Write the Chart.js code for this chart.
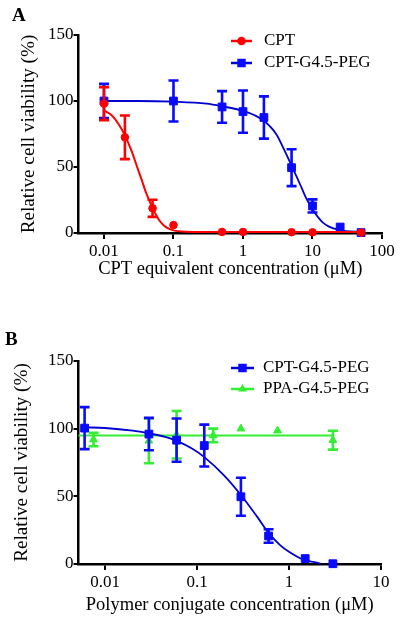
<!DOCTYPE html>
<html><head><meta charset="utf-8">
<script src="https://cdn.jsdelivr.net/npm/chart.js@4.4.0/dist/chart.umd.min.js"></script>
<style>
body{margin:0;background:#fff;width:400px;height:620px;position:relative;overflow:hidden;}
canvas{position:absolute;left:0;}
#ca{top:0}
#cb{top:300px}
</style></head><body>
<canvas id="ca" width="400" height="300"></canvas>
<canvas id="cb" width="400" height="320"></canvas>
<script>
// ---------- Panel A data ----------
const panelALetter = 'A';
const xTicksA = [0.01, 0.1, 1, 10, 100];
const xTickLabelsA = ['0.01', '0.1', '1', '10', '100'];
const yTicks = [0, 50, 100, 150];
const xTitleA = 'CPT equivalent concentration (\u03bcM)';
const yTitle = 'Relative cell viability (%)';

const cptLabel = 'CPT';
const cptX = [0.01, 0.02, 0.05, 0.1, 0.5, 1, 5, 10, 50];
const cptY = [98, 72.5, 18.7, 6, 0.8, 0.8, 0.6, 0.5, 0.3];
const cptErr = [12.5, 16.5, 6.5, 0, 0, 0, 0, 0, 0];
const cptFitX = [0.01, 0.013, 0.016, 0.02, 0.025, 0.03, 0.035, 0.04, 0.05, 0.06, 0.07, 0.08, 0.1, 0.15, 0.3, 1, 10, 50];
const cptFitY = [93, 89, 83, 74, 62, 50, 40, 31, 19, 11, 6.5, 4, 2, 1, 0.8, 0.8, 0.8, 0.8];

const pegLabel = 'CPT-G4.5-PEG';
const pegAX = [0.01, 0.1, 0.5, 1, 2, 5, 10, 25, 50];
const pegAY = [100, 100, 95.5, 92, 87.5, 49.5, 20.5, 4.5, 0.3];
const pegAErr = [13, 15.5, 12, 16, 16, 14, 5, 0, 0];
const pegAFitX = [0.01, 0.03, 0.1, 0.3, 0.5, 1, 1.5, 2, 3, 4, 5, 6, 7, 8, 10, 12, 14, 17, 20, 30, 50];
const pegAFitY = [100, 100, 99.5, 98, 96, 92.5, 89, 85, 75, 62, 51, 42, 34, 27, 18, 12, 8, 5, 3.5, 1.5, 1];

// ---------- Panel B data ----------
const panelBLetter = 'B';
const xTicksB = [0.01, 0.1, 1, 10];
const xTickLabelsB = ['0.01', '0.1', '1', '10'];
const xTitleB = 'Polymer conjugate concentration (\u03bcM)';

const pegBX = [0.006, 0.03, 0.06, 0.12, 0.3, 0.6, 1.5, 3];
const pegBY = [100.4, 96, 91.5, 87.5, 49.7, 20.7, 4, 0.2];
const pegBErr = [15.5, 12, 16, 15.5, 14, 5, 0, 0];
const pegBFitX = [0.006, 0.01, 0.02, 0.03, 0.045, 0.06, 0.09, 0.12, 0.2, 0.3, 0.45, 0.6, 0.8, 1, 1.4, 2, 2.2];
const pegBFitY = [101, 100.5, 98.5, 96.5, 94, 91, 85, 79, 65, 51, 35, 23, 14, 9, 3.5, 1, 0.2];

const ppaLabel = 'PPA-G4.5-PEG';
const ppaX = [0.0075, 0.03, 0.06, 0.15, 0.3, 0.75, 3];
const ppaY = [92, 91, 95.5, 95, 100, 98.5, 91.5];
const ppaErr = [5, 16.5, 17.5, 5, 0, 0, 7];
const ppaFitX = [0.00515, 3];
const ppaFitY = [95, 95];

// ---------- styling ----------
const FONT = 'Liberation Serif';
const RED = '#ff0000', BLUE = '#0a0aff', BLUE_LINE = '#0000d0', GREEN = '#33ee33';

const zip = (xs, ys) => xs.map((x, i) => ({x: x, y: ys[i]}));

function pointSet(label, xs, ys, color, style, r) {
  return {label, data: zip(xs, ys), showLine: false, pointStyle: style, pointRadius: r,
    pointHoverRadius: r, pointBackgroundColor: color, pointBorderColor: color, pointBorderWidth: 1,
    borderColor: color, backgroundColor: color, clip: false};
}
function curveSet(xs, ys, color, w) {
  return {label: '', data: zip(xs, ys), showLine: true, pointRadius: 0, borderColor: color,
    borderWidth: w, cubicInterpolationMode: 'monotone', fill: false, clip: false};
}

function drawMarker(ctx, style, x, y, r, color) {
  ctx.fillStyle = color;
  ctx.beginPath();
  if (style === 'circle') { ctx.arc(x, y, r, 0, Math.PI * 2); }
  else if (style === 'rect') { const s = r * Math.SQRT1_2; ctx.rect(x - s, y - s, 2 * s, 2 * s); }
  else if (style === 'triangle') {
    let a = 0;
    ctx.moveTo(x + Math.sin(a) * r, y - Math.cos(a) * r); a += 2 * Math.PI / 3;
    ctx.lineTo(x + Math.sin(a) * r, y - Math.cos(a) * r); a += 2 * Math.PI / 3;
    ctx.lineTo(x + Math.sin(a) * r, y - Math.cos(a) * r); ctx.closePath();
  }
  ctx.fill();
}

function errorBarPlugin(errs) {
  return {id: 'errBars', beforeDatasetDraw(chart, args) {
    const e = errs[args.index]; if (!e) return;
    const ctx = chart.ctx, xs = chart.scales.x, ys = chart.scales.y;
    const ds = chart.data.datasets[args.index];
    ctx.save(); ctx.strokeStyle = ds.pointBackgroundColor; ctx.lineWidth = 2.6;
    ds.data.forEach((p, i) => {
      if (!e[i]) return;
      const x = xs.getPixelForValue(p.x), yt = ys.getPixelForValue(p.y + e[i]), yb = ys.getPixelForValue(p.y - e[i]);
      ctx.beginPath();
      ctx.moveTo(x, yt); ctx.lineTo(x, yb);
      ctx.moveTo(x - 5, yt); ctx.lineTo(x + 5, yt);
      ctx.moveTo(x - 5, yb); ctx.lineTo(x + 5, yb);
      ctx.stroke();
    });
    ctx.restore();
  }};
}

function legendPlugin(items, lay) {
  return {id: 'customLegend', afterDraw(chart) {
    const ctx = chart.ctx; ctx.save();
    items.forEach((it, i) => {
      const ds = chart.data.datasets[it.points];
      const line = chart.data.datasets[it.curve];
      const y = lay.y + i * lay.dy;
      ctx.strokeStyle = line.borderColor; ctx.lineWidth = 2.5;
      ctx.beginPath(); ctx.moveTo(lay.x1, y); ctx.lineTo(lay.x2, y); ctx.stroke();
      drawMarker(ctx, ds.pointStyle, (lay.x1 + lay.x2) / 2, y, ds.pointRadius + 0.5, ds.pointBackgroundColor);
      ctx.fillStyle = '#000'; ctx.font = '17px "' + FONT + '"';
      ctx.textBaseline = 'middle'; ctx.textAlign = 'left';
      ctx.fillText(ds.label, lay.tx, y);
    });
    ctx.fillStyle = '#000'; ctx.font = 'bold 19px "' + FONT + '"';
    ctx.textBaseline = 'alphabetic'; ctx.textAlign = 'left';
    ctx.fillText(lay.letter, lay.lx, lay.ly);
    ctx.restore();
  }};
}

function makeChart(id, datasets, errs, legendItems, lay, sc) {
  new Chart(document.getElementById(id), {
    type: 'scatter',
    data: {datasets},
    plugins: [errorBarPlugin(errs), legendPlugin(legendItems, lay)],
    options: {
      responsive: false, animation: false, events: [],
      layout: {padding: {left: 0, right: sc.padRight, top: sc.padTop, bottom: 0}},
      plugins: {legend: {display: false}, tooltip: {enabled: false}},
      scales: {
        x: {type: 'logarithmic', position: 'bottom', min: sc.xmin, max: sc.xmax,
          border: {display: true, color: '#000', width: 2.5},
          grid: {display: true, drawOnChartArea: false, drawTicks: true, tickLength: 6, color: '#000', lineWidth: 2},
          ticks: {color: '#000', font: {family: FONT, size: 17}, padding: 2, autoSkip: false, maxRotation: 0,
            callback: (v) => { const i = sc.xticks.indexOf(v); return i >= 0 ? sc.xlabels[i] : ''; }},
          afterBuildTicks: (s) => { s.ticks = sc.xticks.map(v => ({value: v})); },
          afterFit: (s) => { s.height = sc.xh; },
          title: {display: true, text: sc.xtitle, color: '#000', font: {family: FONT, size: 18.5},
            padding: {top: 0, bottom: sc.xtpad}}
        },
        y: {type: 'linear', position: 'left', min: 0, max: 150,
          border: {display: true, color: '#000', width: 2.5},
          grid: {display: true, drawOnChartArea: false, drawTicks: true, tickLength: 5, color: '#000', lineWidth: 2},
          ticks: {color: '#000', font: {family: FONT, size: 17}, padding: 0, stepSize: 50},
          afterBuildTicks: (s) => { s.ticks = yTicks.map(v => ({value: v})); },
          afterFit: (s) => { s.width = 78.5; },
          title: {display: true, text: yTitle, color: '#000', font: {family: FONT, size: 19.2},
            padding: {top: sc.ytpad, bottom: 0}}
        }
      }
    }
  });
}

// Panel A
makeChart('ca',
  [pointSet(cptLabel, cptX, cptY, RED, 'circle', 3.8),
   curveSet(cptFitX, cptFitY, RED, 2),
   pointSet(pegLabel, pegAX, pegAY, BLUE, 'rect', 5.5),
   curveSet(pegAFitX, pegAFitY, BLUE_LINE, 1.8)],
  {0: cptErr, 2: pegAErr},
  [{points: 0, curve: 1}, {points: 2, curve: 3}],
  {x1: 231, x2: 252, tx: 264, y: 41, dy: 22, letter: panelALetter, lx: 12, ly: 21},
  {padRight: 18, padTop: 35, xmin: 0.0043, xmax: 100, xticks: xTicksA, xlabels: xTickLabelsA,
   xh: 67, xtitle: xTitleA, xtpad: 20, ytpad: 17});

// Panel B
makeChart('cb',
  [pointSet(pegLabel, pegBX, pegBY, BLUE, 'rect', 5.5),
   curveSet(pegBFitX, pegBFitY, BLUE_LINE, 1.8),
   pointSet(ppaLabel, ppaX, ppaY, GREEN, 'triangle', 4.5),
   curveSet(ppaFitX, ppaFitY, GREEN, 2)],
  {0: pegBErr, 2: ppaErr},
  [{points: 0, curve: 1}, {points: 2, curve: 3}],
  {x1: 231, x2: 254, tx: 263, y: 68, dy: 21, letter: panelBLetter, lx: 5, ly: 45},
  {padRight: 19, padTop: 61, xmin: 0.00515, xmax: 10, xticks: xTicksB, xlabels: xTickLabelsB,
   xh: 56, xtitle: xTitleB, xtpad: 4, ytpad: 10});
</script>
</body></html>
